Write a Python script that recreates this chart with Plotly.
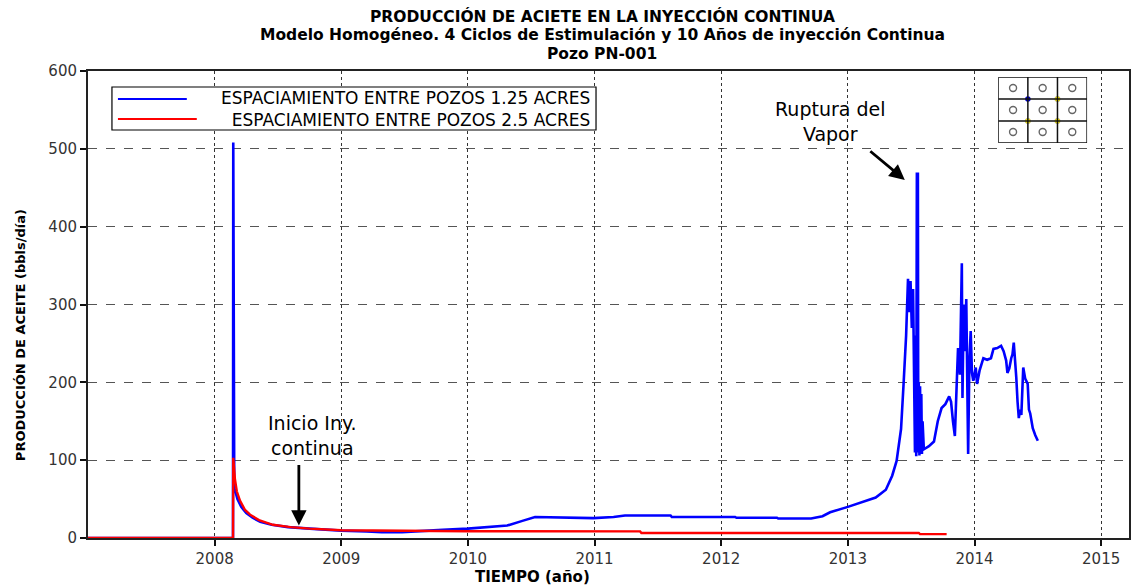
import plotly.graph_objects as go

# --- series data (decimal years, bbl/day) ---
blue_t = [2007.0, 2008.145, 2008.147, 2008.150, 2008.152, 2008.155, 2008.16, 2008.18, 2008.21,
          2008.25, 2008.30,
          2008.36, 2008.45, 2008.58, 2008.75, 2009.0, 2009.2, 2009.32, 2009.48, 2009.61,
          2009.8, 2010.0, 2010.2, 2010.31, 2010.43, 2010.53, 2010.99, 2011.15, 2011.24,
          2011.6, 2011.61, 2012.11, 2012.12, 2012.44, 2012.45, 2012.71, 2012.8, 2012.86,
          2013.0, 2013.1, 2013.22, 2013.30, 2013.35, 2013.385, 2013.42, 2013.44, 2013.46,
          2013.475, 2013.485, 2013.495, 2013.505, 2013.515, 2013.525, 2013.53, 2013.535,
          2013.54, 2013.545, 2013.553, 2013.556, 2013.56, 2013.565, 2013.57, 2013.575,
          2013.58, 2013.585, 2013.59, 2013.60, 2013.64, 2013.68, 2013.71, 2013.74, 2013.77,
          2013.80, 2013.815, 2013.83, 2013.845, 2013.86, 2013.87, 2013.885, 2013.895,
          2013.90, 2013.905, 2013.915, 2013.925, 2013.935, 2013.95, 2013.96, 2013.97,
          2013.98, 2013.99, 2014.01, 2014.02, 2014.04, 2014.07, 2014.10, 2014.13, 2014.15,
          2014.18, 2014.21, 2014.23, 2014.25, 2014.26, 2014.275, 2014.29, 2014.30, 2014.31,
          2014.32, 2014.33, 2014.34, 2014.35, 2014.36, 2014.37, 2014.385, 2014.40, 2014.42,
          2014.43, 2014.44, 2014.46, 2014.48, 2014.50]
blue_v = [0, 0, 508, 70, 505, 62, 62, 50, 40,
          32, 26,
          21, 17, 14, 12, 9.5, 8.5, 7.5, 7.5, 9,
          10.5, 12, 14, 16, 22, 27, 25.5, 27, 29,
          29, 27, 27, 26, 26, 25, 25, 28, 33,
          40, 45, 52, 62, 80, 99, 140, 198, 260,
          333, 290, 330, 270, 320, 200, 110, 260,
          105, 468, 468, 110, 200, 106, 195, 110,
          185, 108, 150, 114, 118, 124, 150, 167, 172,
          182, 175, 150, 131, 200, 244, 210, 330,
          353, 180, 300, 240, 307, 108, 230, 266,
          212, 202, 219, 198, 215, 231, 229, 231, 243,
          244, 247, 240, 228, 212, 218, 231, 236, 251,
          230, 206, 175, 154, 165, 158, 219, 205, 198,
          165, 160, 141, 132, 125]

red_t = [2007.0, 2008.145, 2008.147, 2008.16, 2008.175, 2008.20, 2008.24, 2008.28, 2008.35,
         2008.46, 2008.6, 2008.75, 2009.0, 2009.5, 2010.0, 2011.36, 2011.37, 2013.56,
         2013.57, 2013.78]
red_v = [0, 0, 103, 76, 60, 48, 36, 30, 23,
         17, 14, 12, 10, 9, 8.7, 8.5, 6.5, 6.5,
         5, 5]

series_names = ["ESPACIAMIENTO ENTRE POZOS 1.25 ACRES",
                "ESPACIAMIENTO ENTRE POZOS 2.5 ACRES"]
series_colors = ["#0000ff", "#ff0000"]
year_ticks = [2008, 2009, 2010, 2011, 2012, 2013, 2014, 2015]
rate_ticks = [0, 100, 200, 300, 400, 500, 600]
title_lines = ["PRODUCCIÓN DE ACIETE EN LA INYECCIÓN CONTINUA",
               "Modelo Homogéneo. 4 Ciclos de Estimulación y 10 Años de inyección Continua",
               "Pozo PN-001"]

# well pattern sketch: producer cells and injector nodes
cell_x = [0.5, 1.5, 2.5] * 3
cell_y = [2.5] * 3 + [1.5] * 3 + [0.5] * 3
node_blue_x, node_blue_y = [1], [2]
node_yel_x, node_yel_y = [2, 1, 2], [2, 1, 1]

W, H = 1136, 587
ML, MR, MT, MB = 88, 5, 71, 49
PW, PH = W - ML - MR, H - MT - MB


def px(x):
    """page pixel column -> paper x"""
    return (x - ML) / PW


def py(y):
    """page pixel row -> paper y"""
    return (H - MB - y) / PH


TICK_FONT = dict(family="DejaVu Sans", size=15, color="#333")
BOLD = dict(family="DejaVu Sans", color="black", weight="bold")

fig = go.Figure()
fig.add_trace(go.Scatter(x=blue_t, y=blue_v, mode="lines", name=series_names[0],
                         showlegend=False, line=dict(color=series_colors[0], width=2.6)))
fig.add_trace(go.Scatter(x=red_t, y=red_v, mode="lines", name=series_names[1],
                         showlegend=False, line=dict(color=series_colors[1], width=2.4)))

# inset pattern
fig.add_trace(go.Scatter(x=cell_x, y=cell_y, mode="markers", showlegend=False,
                         xaxis="x2", yaxis="y2",
                         marker=dict(symbol="circle-open", size=7, color="#666",
                                     line=dict(width=1.4))))
fig.add_trace(go.Scatter(x=node_yel_x, y=node_yel_y, mode="markers", showlegend=False,
                         xaxis="x2", yaxis="y2",
                         marker=dict(size=5.5, color="#ffee00", line=dict(width=0.4, color="#888"))))
fig.add_trace(go.Scatter(x=node_blue_x, y=node_blue_y, mode="markers", showlegend=False,
                         xaxis="x2", yaxis="y2",
                         marker=dict(size=5.5, color="#0000cc")))

shapes = [dict(type="rect", xref="x2", yref="y2", x0=0, x1=3, y0=0, y1=3,
               line=dict(color="#111", width=1.5))]
for k in (1, 2):
    shapes.append(dict(type="line", xref="x2", yref="y2", x0=k, x1=k, y0=0, y1=3,
                       line=dict(color="#111", width=1.5)))
    shapes.append(dict(type="line", xref="x2", yref="y2", x0=0, x1=3, y0=k, y1=k,
                       line=dict(color="#111", width=1.5)))

# legend box drawn by hand so the labels sit right-aligned as in the original
shapes.append(dict(type="rect", xref="paper", yref="paper",
                   x0=px(112), x1=px(597), y0=py(130), y1=py(87),
                   fillcolor="white", line=dict(color="black", width=1.2)))
shapes.append(dict(type="line", xref="paper", yref="paper", x0=px(118), x1=px(187),
                   y0=py(99), y1=py(99), line=dict(color=series_colors[0], width=2.2)))
shapes.append(dict(type="line", xref="paper", yref="paper", x0=px(118), x1=px(197),
                   y0=py(119), y1=py(119), line=dict(color=series_colors[1], width=2.2)))

annotations = [
    dict(x=2013.45, y=460, ax=-36, ay=-30, xref="x", yref="y", axref="pixel", ayref="pixel",
         text="", showarrow=True, arrowhead=2, arrowsize=1.1, arrowwidth=2.8, arrowcolor="black"),
    dict(x=2012.86, y=568, xref="x", yref="y", text="Ruptura del<br>Vapor", showarrow=False,
         font=dict(family="DejaVu Sans", size=19, color="black"), yanchor="top"),
    dict(x=2008.665, y=16, ax=0, ay=-62, xref="x", yref="y", axref="pixel", ayref="pixel",
         text="", showarrow=True, arrowhead=2, arrowsize=1.1, arrowwidth=2.8, arrowcolor="black"),
    dict(x=2008.77, y=164, xref="x", yref="y", text="Inicio Iny.<br>continua", showarrow=False,
         font=dict(family="DejaVu Sans", size=19, color="black"), yanchor="top"),
    # legend labels
    dict(x=px(593), y=py(109), xref="paper", yref="paper", xanchor="right", yanchor="middle",
         align="right", text=series_names[0] + "<br>" + series_names[1], showarrow=False,
         font=dict(family="DejaVu Sans", size=17, color="black")),
    # axis titles
    dict(x=px(533), y=py(577), xref="paper", yref="paper", xanchor="center", yanchor="middle",
         text="TIEMPO (año)", showarrow=False, font=dict(size=15, **BOLD)),
    dict(x=px(20), y=py(335), xref="paper", yref="paper", xanchor="center", yanchor="middle",
         text="PRODUCCIÓN DE ACEITE (bbls/día)", textangle=-90, showarrow=False,
         font=dict(size=13, **BOLD)),
]
# three-line heading
for line, row in zip(title_lines, (16, 35, 54)):
    annotations.append(dict(x=px(603), y=py(row), xref="paper", yref="paper",
                            xanchor="center", yanchor="middle", text=line, showarrow=False,
                            font=dict(size=15.5, **BOLD)))

fig.update_layout(
    width=W, height=H,
    margin=dict(l=ML, r=MR, t=MT, b=MB),
    paper_bgcolor="white", plot_bgcolor="white",
    showlegend=False,
    xaxis=dict(range=[2007.0, 2015.22], tickvals=year_ticks,
               ticktext=[str(y) for y in year_ticks],
               showgrid=True, gridcolor="#333", gridwidth=1.4, griddash="dot",
               showline=True, linecolor="#222", linewidth=2, mirror=True,
               ticks="outside", ticklen=6, tickwidth=2, tickcolor="#111",
               tickfont=TICK_FONT, zeroline=False),
    yaxis=dict(range=[0, 600], tickvals=rate_ticks,
               showgrid=True, gridcolor="#555", gridwidth=1.2, griddash="dash",
               showline=True, linecolor="#222", linewidth=2, mirror=True,
               ticks="outside", ticklen=6, tickwidth=2, tickcolor="#111",
               tickfont=TICK_FONT, zeroline=False),
    xaxis2=dict(domain=[px(1000), px(1089)], range=[0, 3], anchor="y2", visible=False,
                fixedrange=True),
    yaxis2=dict(domain=[py(143), py(77)], range=[0, 3], anchor="x2", visible=False,
                fixedrange=True),
    shapes=shapes,
    annotations=annotations,
)

fig.write_html("out.html")
